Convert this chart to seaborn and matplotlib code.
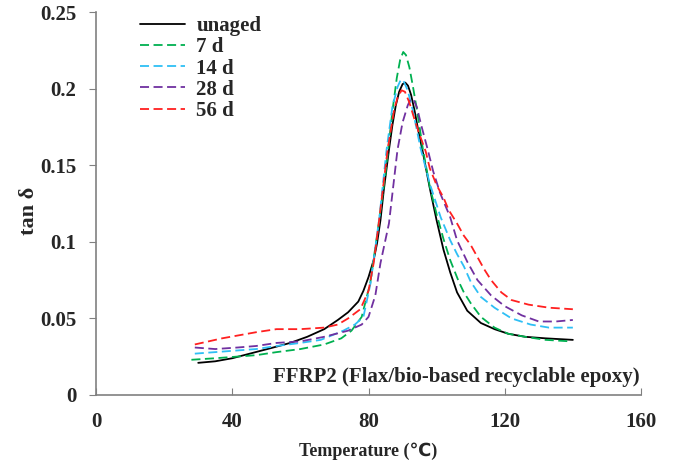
import numpy as np
import pandas as pd
import seaborn as sns
import matplotlib.pyplot as plt

# temperature (C) / tan delta values
t_unaged = [30, 35, 40, 46, 52, 57, 62, 67, 71, 74, 77, 78.5, 80, 81.5, 82.5, 83.5, 84.5, 86, 87,
            88, 89, 90, 90.8, 91.6, 92.5, 93.5, 94.5, 96, 98, 100, 102, 104, 106, 109,
            113, 117, 121, 126, 132, 140]
y_unaged = [0.021, 0.022, 0.024, 0.0275, 0.031, 0.034, 0.038, 0.043, 0.049, 0.054, 0.061,
            0.068, 0.077, 0.088, 0.099, 0.114, 0.134, 0.160, 0.176, 0.189, 0.198, 0.203,
            0.204, 0.202, 0.196, 0.186, 0.174, 0.158, 0.135, 0.114, 0.095, 0.080, 0.067,
            0.055, 0.047, 0.043, 0.040, 0.038, 0.037, 0.036]

t_7d = [28, 35, 41, 47, 53, 60, 67, 72, 75, 78, 80.5, 83, 85, 87, 88.3, 89.3, 90.2, 91, 92,
        93, 94, 95, 96, 98, 100, 102, 104, 106.5, 108, 110, 113, 117, 121, 126, 132, 139.5]
y_7d = [0.023, 0.024, 0.025, 0.026, 0.028, 0.030, 0.033, 0.037, 0.042, 0.051, 0.073, 0.112,
        0.145, 0.185, 0.207, 0.219, 0.224, 0.222, 0.214, 0.202, 0.189, 0.175, 0.160, 0.136,
        0.118, 0.102, 0.088, 0.074, 0.067, 0.060, 0.051, 0.044, 0.040, 0.038, 0.036, 0.035]

t_14d = [29, 35, 41, 47, 53, 60, 66, 72.6, 76, 78.5, 80.6, 83.2, 85.3, 87, 88.5, 89.5, 90.3,
         91.5, 93, 95.3, 98, 101.2, 104, 106, 108, 110, 113, 117, 122, 127.6, 133, 140]
y_14d = [0.027, 0.028, 0.029, 0.030, 0.032, 0.034, 0.036, 0.042, 0.046, 0.051, 0.073, 0.116,
         0.160, 0.188, 0.201, 0.206, 0.205, 0.199, 0.186, 0.161, 0.138, 0.116, 0.101, 0.092,
         0.084, 0.074, 0.064, 0.057, 0.050, 0.046, 0.044, 0.044]

t_28d = [29, 35, 41.5, 47, 53, 60, 67, 74, 78, 80, 82, 83.5, 86, 88.5, 90, 91.5, 92.3, 93.2,
         94.2, 95.5, 97.3, 99, 101, 104, 106, 109, 112, 116, 120, 125, 130, 135, 140]
y_28d = [0.031, 0.030, 0.031, 0.032, 0.034, 0.035, 0.038, 0.042, 0.046, 0.051, 0.065, 0.086,
         0.112, 0.160, 0.178, 0.189, 0.193, 0.193, 0.188, 0.176, 0.161, 0.146, 0.132, 0.116,
         0.101, 0.087, 0.075, 0.065, 0.058, 0.052, 0.048, 0.048, 0.049]

t_56d = [29, 33, 37, 42, 47, 53, 60, 67, 71, 74, 77.6, 80, 81.5, 83, 85.6, 87.5, 88.5, 89.7,
         90.7, 92, 93.5, 95, 96.8, 98, 100, 102, 103.5, 106, 108, 110, 112, 114, 116, 119,
         122, 127, 133, 140]
y_56d = [0.033, 0.035, 0.037, 0.039, 0.041, 0.043, 0.043, 0.044, 0.046, 0.050, 0.056, 0.068,
         0.086, 0.112, 0.160, 0.186, 0.194, 0.199, 0.198, 0.191, 0.180, 0.170, 0.159, 0.148,
         0.137, 0.129, 0.121, 0.112, 0.104, 0.098, 0.090, 0.082, 0.075, 0.067, 0.062, 0.059,
         0.057, 0.056]

labels = ["unaged", "7 d", "14 d", "28 d", "56 d"]
colors = ["black", "#00B050", "#2EBFF5", "#7030A0", "#FF2020"]

series = [(t_unaged, y_unaged), (t_7d, y_7d), (t_14d, y_14d), (t_28d, y_28d), (t_56d, y_56d)]

sns.set_style("white")
plt.rcParams["font.family"] = ["Liberation Serif", "DejaVu Sans"]
plt.rcParams["font.weight"] = "bold"

fig = plt.figure(figsize=(6.74, 4.68), dpi=100)
ax = fig.add_axes([0.1425, 0.156, 0.8085, 0.818])

for (t, y), lab, c in zip(series, labels, colors):
    df = pd.DataFrame({"T": t, "tan": y})
    ls = "-" if lab == "unaged" else (0, (5, 2.5))
    sns.lineplot(data=df, x="T", y="tan", ax=ax, color=c, linestyle=ls,
                 linewidth=1.3, label=lab, sort=False)

ax.set_xlim(0, 160)
ax.set_ylim(0, 0.25)
ax.set_xticks([0, 40, 80, 120, 160])
ax.set_yticks([0, 0.05, 0.1, 0.15, 0.2, 0.25])
ax.set_yticklabels(["0", "0.05", "0.1", "0.15", "0.2", "0.25"])

for s in ["top", "right"]:
    ax.spines[s].set_visible(False)
for s in ["left", "bottom"]:
    ax.spines[s].set_color("#808080")
    ax.spines[s].set_linewidth(1.2)

ax.tick_params(axis="y", direction="out", length=5, color="#808080", labelsize=15, pad=9)
ax.tick_params(axis="x", direction="in", length=5, color="#808080", labelsize=15, pad=12)
ax.tick_params(left=True, bottom=True)
for lbl in ax.get_xticklabels() + ax.get_yticklabels():
    lbl.set_fontweight("bold")

ax.set_xlabel("Temperature (\u2103)", fontsize=13, fontweight="bold")
ax.set_ylabel("tan \u03b4", fontsize=16, fontweight="bold")
ax.xaxis.set_label_coords(0.5, -0.125)
ax.yaxis.set_label_coords(-0.105, 0.48)

ax.text(159.5, 0.0118, "FFRP2 (Flax/bio-based recyclable epoxy)", ha="right", va="center",
        fontsize=15, fontweight="bold")

ax.legend(loc="upper left", bbox_to_anchor=(140 / 674, 1 - 16 / 468),
          bbox_transform=fig.transFigure, frameon=False, borderpad=0, borderaxespad=0,
          handlelength=2.15, labelspacing=0.06, handletextpad=0.55,
          prop={"size": 15, "weight": "bold"})

fig.savefig("out.png", dpi=100)
